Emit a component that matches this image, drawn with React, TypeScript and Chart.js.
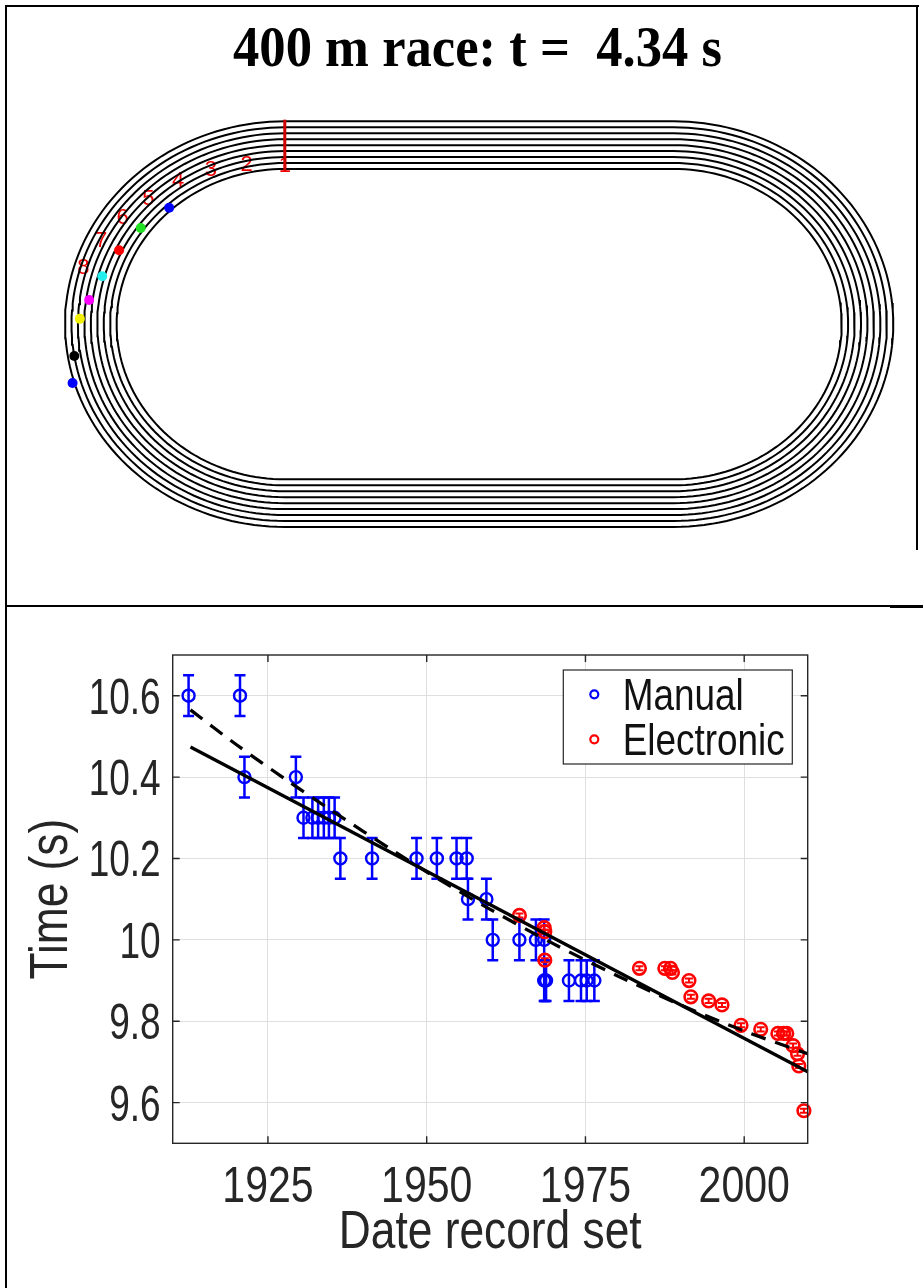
import React, { useEffect, useRef } from "react";
import { Chart, registerables } from "chart.js";
Chart.register(...registerables);

// ---------------- Top panel: 400 m track ----------------
const TITLE = "400 m race: t =  4.34 s";
const laneLineRadiiM = [36.5, 37.9, 39.3, 40.7, 42.1, 43.5, 44.9, 46.3, 47.7];
const straightLengthM = 84.39;
const laneNumbers = ["1", "2", "3", "4", "5", "6", "7", "8"];
const labelAngleDeg = [0, 12.5, 23.9, 34.6, 45.1, 54.7, 63.9, 73.1];
const labelRadiusM = [37.2, 38.4, 39.6, 40.8, 41.8, 43.1, 44.4, 45.7];
const runnerAngleDeg = [42.5, 54.1, 64.2, 74.1, 82.4, 88.4, 99.3, 106.7];
const runnerRadiusM = [37.15, 38.6, 39.95, 41.2, 42.85, 44.5, 46.3, 48.1];
const runnerColors = ["#0000ff", "#22e022", "#ff0000", "#22eeee", "#ff00ff", "#f2f200", "#000000", "#0000ff"];

// ---------------- Bottom panel: 100 m records ----------------
const manualYears = [1912.5, 1920.6, 1921.3, 1929.4, 1930.6, 1932.0, 1932.9, 1933.8, 1934.6, 1935.5, 1936.4, 1941.4, 1948.4, 1951.6, 1954.7, 1956.3, 1956.5, 1959.4, 1960.4, 1964.6, 1967.2, 1968.5, 1968.5, 1968.6, 1968.8, 1972.4, 1974.3, 1975.2, 1976.4];
const manualTimes = [10.6, 10.6, 10.4, 10.4, 10.3, 10.3, 10.3, 10.3, 10.3, 10.3, 10.2, 10.2, 10.2, 10.2, 10.2, 10.2, 10.1, 10.1, 10.0, 10.0, 10.0, 10.0, 9.9, 9.9, 9.9, 9.9, 9.9, 9.9, 9.9];
const manualError = 0.05;
const electronicYears = [1964.6, 1968.5, 1968.6, 1968.6, 1983.5, 1987.5, 1988.4, 1988.7, 1991.3, 1991.6, 1994.4, 1996.5, 1999.5, 2002.6, 2005.3, 2006.2, 2006.7, 2007.7, 2008.4, 2008.6, 2009.4];
const electronicTimes = [10.06, 10.03, 10.02, 9.95, 9.93, 9.93, 9.93, 9.92, 9.9, 9.86, 9.85, 9.84, 9.79, 9.78, 9.77, 9.77, 9.77, 9.74, 9.72, 9.69, 9.58];
const electronicError = 0.005;
const linearFitYears = [1912.8, 2010];
const linearFitTimes = [10.474, 9.676];
const trendFitYears = [1912.8, 1920, 1928, 1935, 1945, 1952, 1960, 1970, 1980, 1990, 2000, 2010];
const trendFitTimes = [10.565, 10.48, 10.392, 10.318, 10.216, 10.148, 10.075, 9.99, 9.912, 9.84, 9.776, 9.72];
const xTickValues = [1925, 1950, 1975, 2000];
const xTickLabels = ["1925", "1950", "1975", "2000"];
const yTickValues = [9.6, 9.8, 10.0, 10.2, 10.4, 10.6];
const yTickLabels = ["9.6", "9.8", "10", "10.2", "10.4", "10.6"];
const legendLabels = ["Manual", "Electronic"];
const xTitle = "Date record set";
const yTitle = "Time (s)";

const SANS = "'Liberation Sans', Arial, sans-serif";
const AX = "#262626";

function stadium(r: number, L: number) {
  const pts: { x: number; y: number }[] = [];
  const N = 90;
  for (let i = 0; i <= N; i++) {
    const f = Math.PI / 2 - (Math.PI * i) / N;
    pts.push({ x: L + r * Math.cos(f), y: r * Math.sin(f) });
  }
  for (let i = 0; i <= N; i++) {
    const f = -Math.PI / 2 - (Math.PI * i) / N;
    pts.push({ x: r * Math.cos(f), y: r * Math.sin(f) });
  }
  pts.push({ x: L, y: r });
  return pts;
}

function onCurve(r: number, deg: number) {
  const t = (deg * Math.PI) / 180;
  return { x: -r * Math.sin(t), y: r * Math.cos(t) };
}

// narrow text: Liberation Sans squeezed horizontally
function narrowText(
  ctx: CanvasRenderingContext2D,
  text: string,
  x: number,
  y: number,
  size: number,
  align: CanvasTextAlign,
  color: string,
  squeeze: number,
  rotate = 0
) {
  ctx.save();
  ctx.translate(x, y);
  if (rotate) ctx.rotate(rotate);
  ctx.scale(squeeze, 1);
  ctx.font = `${size}px ${SANS}`;
  ctx.fillStyle = color;
  ctx.textAlign = align;
  ctx.textBaseline = "alphabetic";
  ctx.fillText(text, 0, 0);
  ctx.restore();
}

export default function App() {
  const topRef = useRef<HTMLCanvasElement>(null);
  const botRef = useRef<HTMLCanvasElement>(null);

  useEffect(() => {
    const trackPlugin = {
      id: "trackDecor",
      beforeDatasetsDraw(chart: any) {
        const { ctx, scales } = chart;
        ctx.save();
        ctx.fillStyle = "#ee0000";
        ctx.font = "22px 'Liberation Sans', Arial, sans-serif";
        ctx.textAlign = "center";
        ctx.textBaseline = "middle";
        laneNumbers.forEach((t, i) => {
          const p = onCurve(labelRadiusM[i], labelAngleDeg[i]);
          ctx.fillText(t, scales.x.getPixelForValue(p.x), scales.y.getPixelForValue(p.y));
        });
        ctx.restore();
      },
      afterDraw(chart: any) {
        const { ctx } = chart;
        ctx.save();
        ctx.fillStyle = "#000";
        ctx.font = "bold 58px 'Liberation Serif', 'Times New Roman', serif";
        const w = ctx.measureText(TITLE).width;
        ctx.translate(477.5, 66);
        ctx.scale(489 / w, 1);
        ctx.textAlign = "center";
        ctx.textBaseline = "alphabetic";
        ctx.fillText(TITLE, 0, 0);
        ctx.restore();
      },
    };

    const laneSets = laneLineRadiiM.map((r) => ({
      data: stadium(r, straightLengthM),
      showLine: true,
      borderColor: "#000",
      borderWidth: 2,
      pointRadius: 0,
      tension: 0,
      fill: false,
      order: 3,
      clip: false,
    }));

    const c1 = new Chart(topRef.current!, {
      type: "scatter",
      data: {
        datasets: [
          {
            data: runnerAngleDeg.map((a, i) => onCurve(runnerRadiusM[i], a)),
            pointRadius: 5,
            pointBackgroundColor: runnerColors,
            pointBorderColor: runnerColors,
            borderWidth: 0,
            order: 0,
            clip: false,
          } as any,
          {
            data: [
              { x: 0, y: laneLineRadiiM[0] - 0.4 },
              { x: 0, y: laneLineRadiiM[laneLineRadiiM.length - 1] + 0.4 },
            ],
            showLine: true,
            borderColor: "#d00000",
            borderWidth: 3,
            pointRadius: 0,
            order: 1,
            clip: false,
          },
          ...laneSets,
        ],
      },
      options: {
        responsive: false,
        animation: false,
        devicePixelRatio: 1,
        layout: { padding: 0 },
        plugins: { legend: { display: false }, tooltip: { enabled: false } },
        scales: {
          x: { type: "linear", display: false, min: -60.735, max: 137.46 },
          y: { type: "linear", display: false, min: -65.12, max: 75.07 },
        },
      },
      plugins: [trackPlugin],
    } as any);

    const recordPlugin = {
      id: "recordDecor",
      beforeDatasetsDraw(chart: any) {
        const { ctx, scales } = chart;
        const draw = (xs: number[], ys: number[], err: number, color: string, cap: number, lw: number) => {
          ctx.save();
          ctx.strokeStyle = color;
          ctx.lineWidth = lw;
          xs.forEach((xv, i) => {
            const px = scales.x.getPixelForValue(xv);
            const y1 = scales.y.getPixelForValue(ys[i] - err);
            const y2 = scales.y.getPixelForValue(ys[i] + err);
            ctx.beginPath();
            ctx.moveTo(px, y1);
            ctx.lineTo(px, y2);
            ctx.moveTo(px - cap, y1);
            ctx.lineTo(px + cap, y1);
            ctx.moveTo(px - cap, y2);
            ctx.lineTo(px + cap, y2);
            ctx.stroke();
          });
          ctx.restore();
        };
        draw(manualYears, manualTimes, manualError, "#0000ff", 5.5, 2.5);
        draw(electronicYears, electronicTimes, electronicError, "#ff0000", 4, 2);
      },
      afterDraw(chart: any) {
        const { ctx, chartArea: a, scales } = chart;
        ctx.save();
        ctx.strokeStyle = AX;
        ctx.lineWidth = 1.4;
        ctx.strokeRect(a.left, a.top, a.right - a.left, a.bottom - a.top);
        ctx.beginPath();
        xTickValues.forEach((v) => {
          const px = scales.x.getPixelForValue(v);
          ctx.moveTo(px, a.bottom);
          ctx.lineTo(px, a.bottom - 7);
          ctx.moveTo(px, a.top);
          ctx.lineTo(px, a.top + 7);
        });
        yTickValues.forEach((v) => {
          const py = scales.y.getPixelForValue(v);
          ctx.moveTo(a.left, py);
          ctx.lineTo(a.left + 7, py);
          ctx.moveTo(a.right, py);
          ctx.lineTo(a.right - 7, py);
        });
        ctx.stroke();
        ctx.restore();

        // tick labels (placed by the scales)
        xTickValues.forEach((v, i) => {
          narrowText(ctx, xTickLabels[i], scales.x.getPixelForValue(v), a.bottom + 58.5, 50, "center", AX, 0.82);
        });
        yTickValues.forEach((v, i) => {
          narrowText(ctx, yTickLabels[i], a.left - 12, scales.y.getPixelForValue(v) + 18, 50, "right", AX, 0.74);
        });
        // axis titles
        narrowText(ctx, xTitle, (a.left + a.right) / 2, 641.5, 54, "center", AX, 0.82);
        narrowText(ctx, yTitle, 67, (a.top + a.bottom) / 2, 54, "center", AX, 0.82, -Math.PI / 2);

        // legend
        ctx.save();
        const bx = 563.3, by = 64, bw = 229, bh = 94;
        ctx.fillStyle = "#fff";
        ctx.fillRect(bx, by, bw, bh);
        ctx.strokeStyle = AX;
        ctx.lineWidth = 1.2;
        ctx.strokeRect(bx, by, bw, bh);
        const colors = ["#0000ff", "#ff0000"];
        legendLabels.forEach((t, i) => {
          const cy = by + 24.3 + i * 45;
          ctx.beginPath();
          ctx.strokeStyle = colors[i];
          ctx.lineWidth = 2.2;
          ctx.arc(bx + 31, cy, 4, 0, Math.PI * 2);
          ctx.stroke();
          narrowText(ctx, t, bx + 59.4, cy + 16, 45, "left", "#111", 0.82);
        });
        ctx.restore();
      },
    };

    const c2 = new Chart(botRef.current!, {
      type: "scatter",
      data: {
        datasets: [
          {
            label: "linear",
            data: linearFitYears.map((x, i) => ({ x, y: linearFitTimes[i] })),
            showLine: true,
            borderColor: "#000",
            borderWidth: 3.3,
            pointRadius: 0,
            tension: 0,
            order: 0,
            clip: false,
          },
          {
            label: "trend",
            data: trendFitYears.map((x, i) => ({ x, y: trendFitTimes[i] })),
            showLine: true,
            borderColor: "#000",
            borderWidth: 3.3,
            borderDash: [15, 10],
            pointRadius: 0,
            tension: 0.3,
            order: 1,
            clip: false,
          },
          {
            label: "Electronic",
            data: electronicYears.map((x, i) => ({ x, y: electronicTimes[i] })),
            pointRadius: 6.3,
            pointBorderWidth: 2.6,
            pointBorderColor: "#ff0000",
            pointBackgroundColor: "rgba(0,0,0,0)",
            order: 2,
            clip: false,
          },
          {
            label: "Manual",
            data: manualYears.map((x, i) => ({ x, y: manualTimes[i] })),
            pointRadius: 6,
            pointBorderWidth: 2.4,
            pointBorderColor: "#0000ff",
            pointBackgroundColor: "rgba(0,0,0,0)",
            order: 3,
            clip: false,
          },
        ],
      },
      options: {
        responsive: false,
        animation: false,
        devicePixelRatio: 1,
        layout: { padding: { left: 0, right: 115.3, top: 49, bottom: 0 } },
        plugins: { legend: { display: false }, tooltip: { enabled: false } },
        scales: {
          x: {
            type: "linear",
            min: 1910,
            max: 2010,
            afterBuildTicks: (s: any) => {
              s.ticks = xTickValues.map((v) => ({ value: v }));
            },
            afterFit: (s: any) => {
              s.height = 144.7;
            },
            grid: { color: "#dfdfdf", lineWidth: 1, drawTicks: false },
            border: { display: false },
            ticks: { display: false, autoSkip: false },
            title: { display: false },
          },
          y: {
            type: "linear",
            min: 9.5,
            max: 10.7,
            afterBuildTicks: (s: any) => {
              s.ticks = yTickValues.map((v) => ({ value: v }));
            },
            afterFit: (s: any) => {
              s.width = 172.7;
            },
            grid: { color: "#dfdfdf", lineWidth: 1, drawTicks: false },
            border: { display: false },
            ticks: { display: false, autoSkip: false },
            title: { display: false },
          },
        },
      },
      plugins: [recordPlugin],
    } as any);

    return () => {
      c1.destroy();
      c2.destroy();
    };
  }, []);

  const line = (l: number, t: number, w: number, h: number) => (
    <div style={{ position: "absolute", left: l, top: t, width: w, height: h, background: "#000" }} />
  );

  return (
    <div style={{ position: "absolute", left: 0, top: 0, width: 923, height: 1288, background: "#fff", overflow: "hidden" }}>
      <canvas ref={topRef} width={923} height={606} style={{ position: "absolute", left: 0, top: 0 }} />
      <canvas ref={botRef} width={923} height={682} style={{ position: "absolute", left: 0, top: 606 }} />
      {line(5, 5, 2, 1283)}
      {line(5, 5, 914, 2)}
      {line(916, 5, 2, 545)}
      {line(5, 605, 885, 2)}
      {line(890, 605, 33, 3)}
    </div>
  );
}
